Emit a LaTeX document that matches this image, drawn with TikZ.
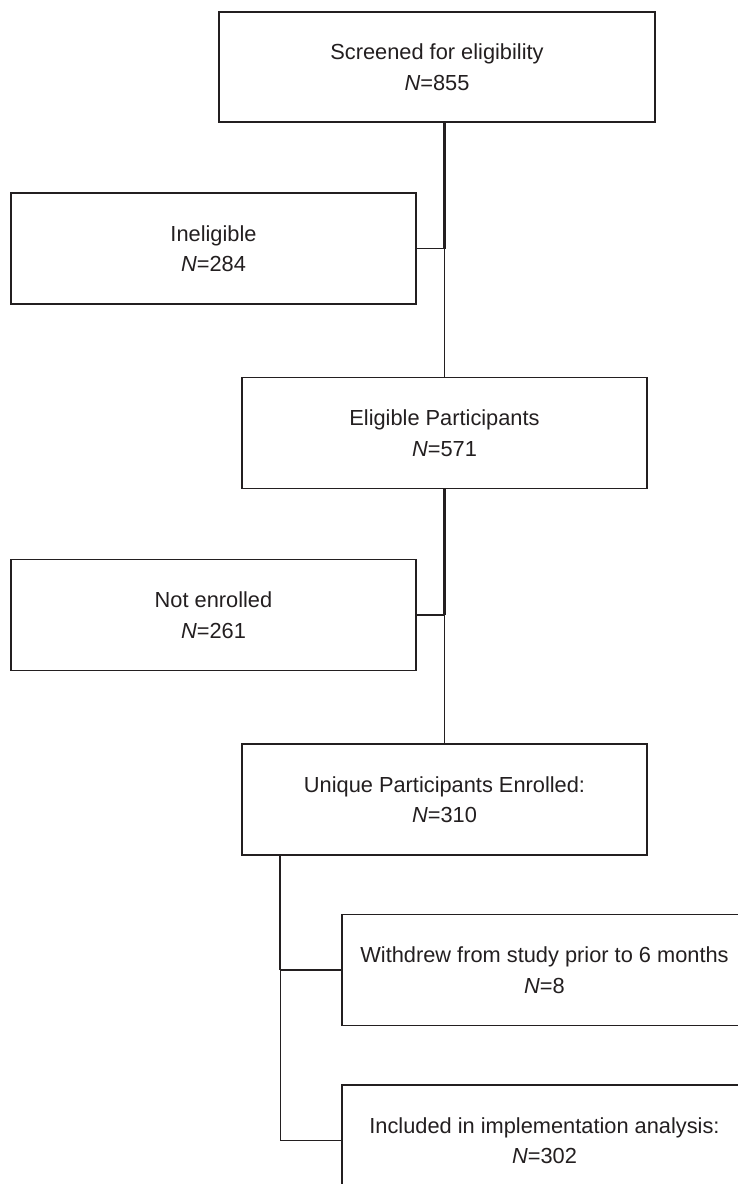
\documentclass[tikz,border=0pt]{standalone}
\usepackage{fontspec}
\setmainfont{Liberation Sans}
\usetikzlibrary{positioning}
\definecolor{ink}{HTML}{231F20}
\tikzset{
  x=1pt, y=1pt,
  node distance=254pt,
  box/.style={draw=ink, line width=1.5pt, fill=white, text=ink,
    minimum width=405pt, minimum height=111pt, inner sep=0pt,
    align=center, font=\fontsize{21.8}{30.5}\selectfont},
  link/.style={draw=ink, line width=1.3pt},
  trunk/.style={draw=ink, line width=2.2pt},
}

\begin{document}
\begin{tikzpicture}
        \useasboundingbox (0,0) rectangle (738,-1184);
        \clip (0,0) rectangle (738,-1184);

        % boxes
        \node[box, minimum width=436pt, minimum height=110pt] (scr) at (437,-67)
          {Screened for eligibility\\\textit{N}=855};
        \node[box, below=of scr, xshift=7.5pt] (elig)
          {Eligible Participants\\\textit{N}=571};
        \node[box] (inel) at (213.5,-248.5) {Ineligible\\\textit{N}=284};
        \node[box, below=of inel] (nenr) {Not enrolled\\\textit{N}=261};
        \node[box, below=of elig] (uniq)
          {Unique Participants Enrolled:\\\textit{N}=310};
        \node[box, anchor=north west, below right=58pt and 100pt of uniq.south west] (wdr)
          {Withdrew from study prior to 6 months\\\textit{N}=8};
        \node[box, below=58pt of wdr] (incl)
          {Included in implementation analysis:\\\textit{N}=302};
        \coordinate (split) at ([xshift=39pt]uniq.south west);

        % connectors
        \draw[trunk] (elig.north |- scr.south) -- (elig.north |- inel.east);
        \draw[link] (elig.north |- inel.east) -- (elig.north);
        \draw[link] (inel.east) -- (elig.north |- inel.east);

        \draw[trunk] (elig.south) -- (uniq.north |- nenr.east);
        \draw[link] (uniq.north |- nenr.east) -- (uniq.north);
        \draw[link] (nenr.east) -- (uniq.north |- nenr.east);

        \draw[trunk] (split) -- (split |- wdr.west);
        \draw[link] (split |- wdr.west) -- (split |- incl.west) -- (incl.west);
        \draw[link] (split |- wdr.west) -- (wdr.west);

      \end{tikzpicture}
\end{document}
